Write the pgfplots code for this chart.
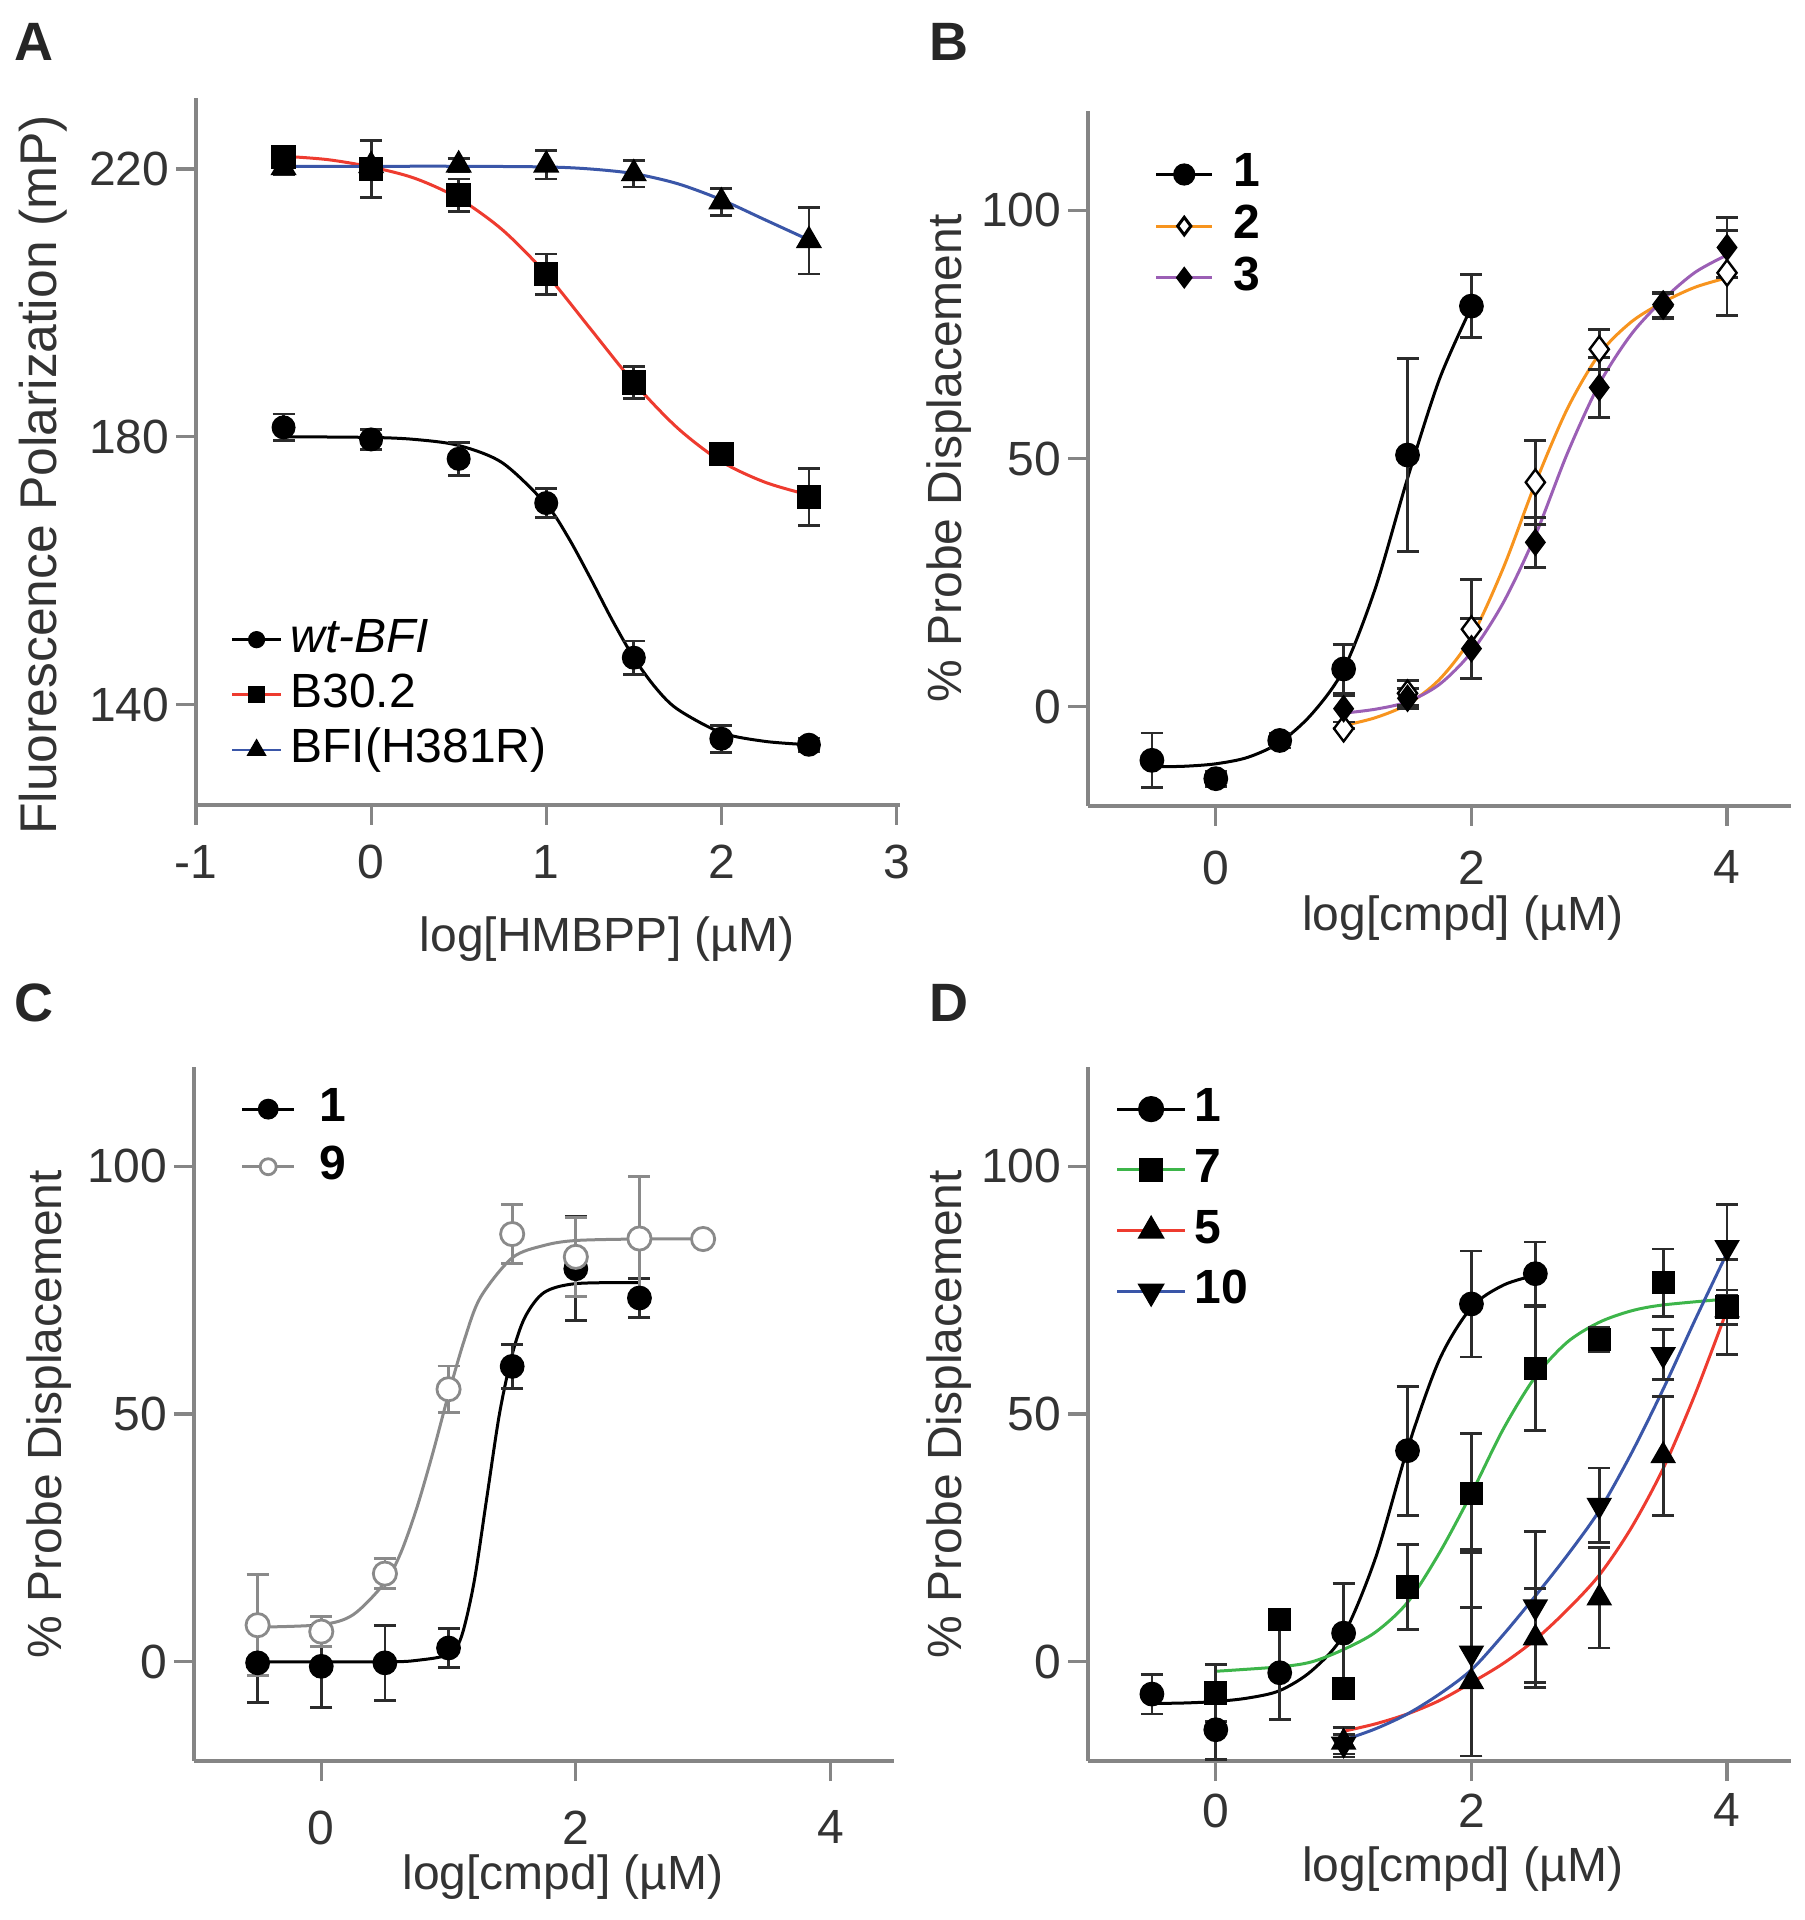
\documentclass[border=0pt]{standalone}
\usepackage{fontspec}
\setmainfont{Liberation Sans}
\usepackage{pgfplots}
\pgfplotsset{compat=1.18}

\definecolor{axgray}{HTML}{858585}
\definecolor{txt}{HTML}{333333}
\definecolor{ebcol}{HTML}{2B2B2B}
\definecolor{cred}{HTML}{EE3B2F}
\definecolor{cblue}{HTML}{3A56A8}
\definecolor{corange}{HTML}{F7941E}
\definecolor{cpurple}{HTML}{9B5FB5}
\definecolor{cgreen}{HTML}{3DB54A}
\definecolor{cgrey}{HTML}{8A8A8A}

\newcommand\fs{\fontsize{12}{14.4}\selectfont}

\pgfplotsset{
  panel/.style={
    scale only axis,
    anchor=south west,
    axis lines=left,
    axis line style={draw=axgray, line width=0.8pt, -},
    tick style={draw=axgray, line width=0.8pt},
    tick align=outside,
    major tick length=5pt,
    tick label style={font=\fs, text=txt},
    yticklabel style={inner sep=1.5pt},
    xticklabel style={inner sep=3pt},
    label style={font=\fs, text=txt},
    /pgf/number format/assume math mode=true,
    clip=false,
    legend cell align=left,
    legend style={draw=none, fill=none, inner sep=0pt, font=\fs,
      nodes={inner sep=0pt, text height=8.6pt, text depth=2.4pt}},
  },
  pts/.style={only marks, forget plot,
    error bars/y dir=both, error bars/y explicit,
    error bars/error bar style={line width=0.7pt, draw=ebcol},
    error bars/error mark options={rotate=90, mark size=2.75pt, line width=0.7pt, draw=ebcol}},
  fit/.style={no marks, smooth, line width=0.75pt, forget plot},
}

\begin{document}
\begin{tikzpicture}
\useasboundingbox (0,0) rectangle (451pt,480pt);

\node[font=\fontsize{13.5}{16}\selectfont\bfseries, text=black!85] at (8.5pt,469.5pt) {A};
\node[font=\fontsize{13.5}{16}\selectfont\bfseries, text=black!85] at (237.25pt,469.5pt) {B};
\node[font=\fontsize{13.5}{16}\selectfont\bfseries, text=black!85] at (8.5pt,229.25pt) {C};
\node[font=\fontsize{13.5}{16}\selectfont\bfseries, text=black!85] at (237.25pt,229.25pt) {D};

% ---------------- A ----------------
\begin{axis}[panel,
  at={(49pt,278.75pt)}, width=176pt, height=176.75pt,
  xmin=-1, xmax=3.02, ymin=125, ymax=230.6,
  xtick={-1,0,1,2,3}, ytick={140,180,220},
  xticklabel style={inner sep=4.8pt},
  xlabel={log[HMBPP] (µM)}, ylabel={Fluorescence Polarization (mP)},
  xlabel style={at={(axis description cs:0.584,-0.19)}, anchor=center},
  ylabel style={at={(axis description cs:-0.217,0.467)}, anchor=center, font=\fontsize{12.9}{15}\selectfont},
  legend style={at={(axis cs:-0.806,153.1)}, anchor=north west, row sep=2.8pt},
  legend image code/.code={\draw[mark repeat=2,mark phase=2,#1] plot coordinates {(0pt,0pt) (6.1pt,0pt) (12.25pt,0pt)}; \path (14.25pt,0pt);},
]
\addplot[fit, black] coordinates {(-0.5,180.0) (0,179.9) (0.25,179.6) (0.5,178.7) (0.75,176.1) (1,169.9) (1.125,165.0) (1.25,159.0) (1.375,152.7) (1.5,147.0) (1.625,142.5) (1.75,139.3) (2,135.8) (2.25,134.5) (2.5,134.0)};
\addplot[fit, cred] coordinates {(-0.5,221.9) (-0.25,221.4) (0,220.3) (0.25,218.6) (0.5,215.6) (0.75,210.9) (1,204.3) (1.25,196.2) (1.5,188.1) (1.75,181.3) (2,176.3) (2.25,173.2) (2.5,171.3)};
\addplot[fit, cblue] coordinates {(-0.5,220.4) (0,220.4) (0.5,220.4) (1,220.3) (1.25,220.0) (1.5,219.3) (1.75,217.8) (2,215.4) (2.25,212.4) (2.5,209.4)};
\addplot[pts, mark=triangle*, mark size=3.4pt, black] table[x=x, y=y, y error=e] {
x y e
-0.5 220.2 1
0 220.5 1
0.5 220.6 1
1 220.6 2.1
1.5 219.3 2
2 215.1 2
2.5 209.3 5
};
\addplot[pts, mark=square*, mark size=2.85pt, black] table[x=x, y=y, y error=e] {
x y e
-0.5 221.8 1
0 220.0 4.3
0.5 216.1 2.4
1 204.3 3
1.5 188.1 2.4
2 177.4 1
2.5 171.0 4.3
};
\addplot[pts, mark=*, mark size=2.8pt, black] table[x=x, y=y, y error=e] {
x y e
-0.5 181.4 2
0 179.6 1.5
0.5 176.7 2.5
1 170.1 2.2
1.5 147.0 2.5
2 134.9 2
2.5 134.0 1
};
\addlegendimage{black, line width=0.7pt, mark=*, mark size=1.8pt, mark options={black}}
\addlegendentry{\textit{wt-BFI}}
\addlegendimage{cred, line width=0.7pt, mark=square*, mark size=1.8pt, mark options={black}}
\addlegendentry{B30.2}
\addlegendimage{cblue, line width=0.7pt, mark=triangle*, mark size=2.2pt, mark options={black}}
\addlegendentry{BFI(H381R)}
\end{axis}

% ---------------- B ----------------
\begin{axis}[panel,
  at={(272pt,278.5pt)}, width=175.75pt, height=173.75pt,
  xmin=-1, xmax=4.5, ymin=-20, ymax=120,
  xtick={0,2,4}, ytick={0,50,100},
  xticklabel style={inner sep=6pt},
  xlabel={log[cmpd] (µM)}, ylabel={\% Probe Displacement},
  xlabel style={at={(axis description cs:0.533,-0.162)}, anchor=center},
  ylabel style={at={(axis description cs:-0.198,0.5)}, anchor=center},
  legend style={at={(axis cs:-0.484,111.8)}, anchor=north west, row sep=1.9pt, font=\fs\bfseries},
  legend image code/.code={\draw[mark repeat=2,mark phase=2,#1] plot coordinates {(0pt,0pt) (7pt,0pt) (14pt,0pt)}; \path (19pt,0pt);},
]
\addplot[fit, black] coordinates {(-0.5,-12.1) (-0.25,-12.0) (0,-11.5) (0.25,-10.2) (0.5,-7.2) (0.75,-1.5) (1,7.5) (1.25,24) (1.5,46) (1.75,66) (2,80.5)};
\addplot[fit, corange] coordinates {(1,-3.8) (1.25,-2.2) (1.5,0.5) (1.75,5.5) (2,14) (2.25,28) (2.5,45) (2.75,60) (3,71) (3.25,77.5) (3.5,81.5) (3.75,84.5) (4,86.4)};
\addplot[fit, cpurple] coordinates {(1,-1.3) (1.25,-0.5) (1.5,1) (1.75,4.5) (2,11) (2.25,21) (2.5,34.5) (2.75,51) (3,65) (3.25,75) (3.5,82) (3.75,87.5) (4,91)};
\addplot[pts, mark=*, mark size=2.9pt, black] table[x=x, y=y, y error=e] {
x y e
-0.5 -10.8 5.5
0 -14.5 1.5
0.5 -6.8 1.5
1 7.6 5
1.5 50.7 19.5
2 80.7 6.3
};
\addplot[pts, mark=diamond*, mark size=3.2pt, black, mark options={fill=white, draw=black, line width=0.6pt}] table[x=x, y=y, y error=e] {
x y e
1 -4.4 0
1.5 2.7 2.5
2 15.6 10
2.5 45.2 8.5
3 72 4
3.5 81 2.5
4 87.4 8.6
};
\addplot[pts, mark=diamond*, mark size=3.2pt, black] table[x=x, y=y, y error=e] {
x y e
1 -0.4 2.7
1.5 1.7 2
2 11.7 6
2.5 33.1 5
3 64.3 6
3.5 80.7 2.5
4 92.5 6
};
\addlegendimage{black, line width=0.75pt, mark=*, mark size=2.4pt, mark options={black}}
\addlegendentry{1}
\addlegendimage{corange, line width=0.75pt, mark=diamond*, mark size=2.2pt, mark options={fill=white, draw=black}}
\addlegendentry{2}
\addlegendimage{cpurple, line width=0.75pt, mark=diamond*, mark size=2.2pt, mark options={black}}
\addlegendentry{3}
\end{axis}

% ---------------- C ----------------
\begin{axis}[panel,
  at={(48.5pt,39.75pt)}, width=175pt, height=173.5pt,
  xmin=-1, xmax=4.5, ymin=-20, ymax=120,
  xtick={0,2,4}, ytick={0,50,100},
  xticklabel style={inner sep=7.2pt},
  xlabel={log[cmpd] (µM)}, ylabel={\% Probe Displacement},
  xlabel style={at={(axis description cs:0.527,-0.167)}, anchor=center},
  ylabel style={at={(axis description cs:-0.207,0.5)}, anchor=center},
  legend style={at={(axis cs:-0.64,116.1)}, anchor=north west, row sep=3.4pt, font=\fs\bfseries},
  legend image code/.code={\draw[mark repeat=2,mark phase=2,#1] plot coordinates {(0pt,0pt) (6.5pt,0pt) (13pt,0pt)}; \path (19pt,0pt);},
]
\addplot[fit, black] coordinates {(-0.5,0) (0.5,0) (0.75,0.3) (1,1.5) (1.1,5) (1.2,16) (1.3,33) (1.4,50) (1.5,62) (1.6,69.5) (1.75,74.5) (2,76.3) (2.5,76.5)};
\addplot[fit, cgrey] coordinates {(-0.5,7.0) (0,7.5) (0.25,9.5) (0.5,16) (0.625,22) (0.75,31) (0.875,42) (1,54) (1.125,65) (1.25,73.5) (1.5,81.5) (1.75,84) (2,85) (2.5,85.3) (3,85.3)};
\addplot[pts, mark=*, mark size=2.9pt, black] table[x=x, y=y, y error=e] {
x y e
-0.5 -0.2 8
0 -0.9 8.3
0.5 -0.2 7.6
1 2.8 4
1.5 59.6 4.5
2 79.3 10.5
2.5 73.4 4
};
\addplot[pts, mark=*, mark size=2.9pt, cgrey, mark options={fill=white, draw=cgrey, line width=0.7pt},
  error bars/error bar style={line width=0.7pt, draw=cgrey},
  error bars/error mark options={rotate=90, mark size=2.75pt, line width=0.7pt, draw=cgrey}] table[x=x, y=y, y error=e] {
x y e
-0.5 7.4 10.2
0 6.1 3
0.5 17.8 3
1 55 4.7
1.5 86.3 6
2 81.7 8
2.5 85.4 12.5
3 85.3 0
};
\addlegendimage{black, line width=0.8pt, mark=*, mark size=2.2pt, mark options={black}}
\addlegendentry{1}
\addlegendimage{cgrey, line width=0.7pt, mark=*, mark size=2pt, mark options={fill=white, draw=cgrey}}
\addlegendentry{9}
\end{axis}

% ---------------- D ----------------
\begin{axis}[panel,
  at={(272pt,39.75pt)}, width=175.75pt, height=173.5pt,
  xmin=-1, xmax=4.5, ymin=-20, ymax=120,
  xtick={0,2,4}, ytick={0,50,100},
  xticklabel style={inner sep=3pt},
  xlabel={log[cmpd] (µM)}, ylabel={\% Probe Displacement},
  xlabel style={at={(axis description cs:0.533,-0.156)}, anchor=center},
  ylabel style={at={(axis description cs:-0.198,0.5)}, anchor=center},
  legend style={at={(axis cs:-0.79,116.1)}, anchor=north west, row sep=4.2pt, font=\fs\bfseries},
  legend image code/.code={\draw[mark repeat=2,mark phase=2,#1] plot coordinates {(0pt,0pt) (8.5pt,0pt) (17pt,0pt)}; \path (19pt,0pt);},
]
\addplot[fit, black] coordinates {(-0.5,-8.4) (-0.25,-8.3) (0,-8.0) (0.25,-7.3) (0.5,-5.8) (0.75,-1.8) (1,5.5) (1.25,21) (1.5,43) (1.75,61) (2,71.5) (2.25,76) (2.5,78)};
\addplot[fit, cgreen] coordinates {(0,-1.9) (0.5,-1.0) (0.75,0) (1,2.5) (1.25,6) (1.5,12) (1.75,22) (2,34) (2.25,47) (2.5,57.5) (2.75,64.5) (3,68.5) (3.25,70.8) (3.5,72) (4,73.2)};
\addplot[fit, cred] coordinates {(1,-14) (1.25,-12.5) (1.5,-10.5) (1.75,-7.8) (2,-4.2) (2.25,-0.3) (2.5,4.5) (2.75,10.5) (3,17.5) (3.25,27) (3.5,39) (3.75,54) (4,71)};
\addplot[fit, cblue] coordinates {(1,-15.8) (1.25,-13.5) (1.5,-10.5) (1.75,-6.5) (2,-1.6) (2.25,5.5) (2.5,13.3) (2.75,21.5) (3,30.5) (3.25,42) (3.5,55) (3.75,69) (4,82.5)};
\addplot[pts, mark=*, mark size=2.9pt, black] table[x=x, y=y, y error=e] {
x y e
-0.5 -6.5 4
0 -13.7 6
0.5 -2.2 9.5
1 5.8 10
1.5 42.6 13
2 72.2 10.7
2.5 78.3 6.4
};
\addplot[pts, mark=square*, mark size=2.7pt, black] table[x=x, y=y, y error=e] {
x y e
0 -6.3 5.8
0.5 8.5 0
1 -5.3 2
1.5 15.1 8.6
2 34 12
2.5 59.1 12.5
3 65 2.5
3.5 76.5 6.8
4 71.6 9.6
};
\addplot[pts, mark=triangle*, mark size=3.3pt, black] table[x=x, y=y, y error=e] {
x y e
1 -16.2 3
2 -4 15
2.5 4.8 10
3 12.9 10.1
3.5 41.6 12
4 71 3
};
\addplot[pts, mark=triangle*, mark size=3.3pt, black, mark options={rotate=180}] table[x=x, y=y, y error=e] {
x y e
1 -16.6 2
2 1.8 20.8
2.5 11.1 15.2
3 31.6 7.5
3.5 62 5
4 83.6 8.6
};
\addlegendimage{black, line width=0.75pt, mark=*, mark size=2.9pt, mark options={black}}
\addlegendentry{1}
\addlegendimage{cgreen, line width=0.75pt, mark=square*, mark size=2.7pt, mark options={black}}
\addlegendentry{7}
\addlegendimage{cred, line width=0.75pt, mark=triangle*, mark size=3.2pt, mark options={black}}
\addlegendentry{5}
\addlegendimage{cblue, line width=0.75pt, mark=triangle*, mark size=3.2pt, mark options={black, rotate=180}}
\addlegendentry{10}
\end{axis}
\end{tikzpicture}
\end{document}
